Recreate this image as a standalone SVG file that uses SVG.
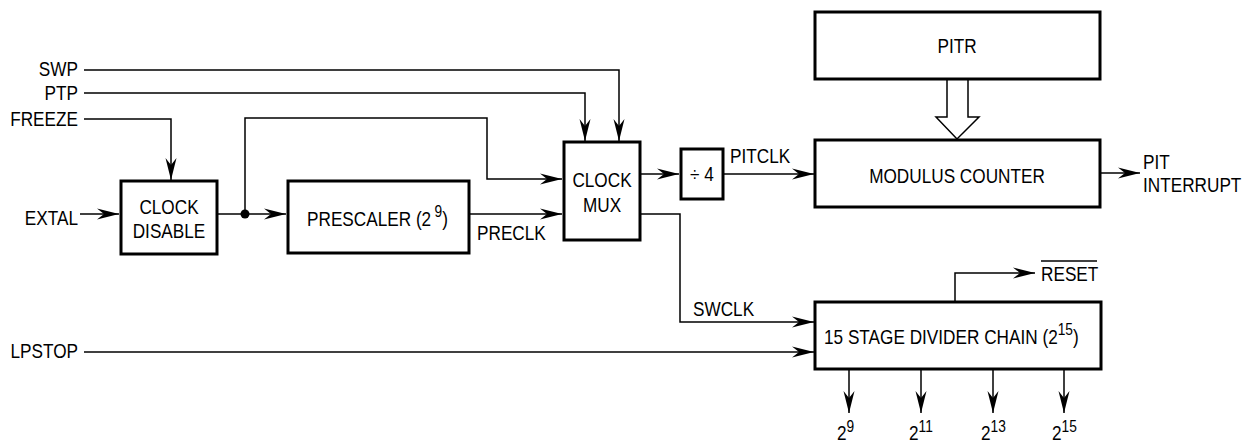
<svg xmlns="http://www.w3.org/2000/svg" width="1250" height="443" viewBox="0 0 1250 443">
<style>
text{font-family:"Liberation Sans",Arial,sans-serif;font-size:20px;fill:#000}
.box{fill:#fff;stroke:#000;stroke-width:3}
.c{fill:none;stroke:#000;stroke-width:1.5}
.m{text-anchor:middle}
.e{text-anchor:end}
.s{font-size:16px}
</style>
<defs>
<marker id="ah" viewBox="-23 -6 24 12" refX="0" refY="0" markerWidth="24" markerHeight="12" markerUnits="userSpaceOnUse" orient="auto">
<path d="M0,0 L-22,-5.5 L-15,0 L-22,5.5 Z" fill="#000"/>
</marker>
</defs>
<rect width="1250" height="443" fill="#fff"/>
<g id="connectors">
<path class="c" d="M84,70 H619 V141" marker-end="url(#ah)"/>
<path class="c" d="M84,93 H585 V141" marker-end="url(#ah)"/>
<path class="c" d="M84,119 H171 V180" marker-end="url(#ah)"/>
<path class="c" d="M80,214 H119" marker-end="url(#ah)"/>
<path class="c" d="M217,214 H286" marker-end="url(#ah)"/>
<path class="c" d="M245,214 V118 H487 V179 H562" marker-end="url(#ah)"/>
<path class="c" d="M469,214 H562" marker-end="url(#ah)"/>
<path class="c" d="M640,174 H679" marker-end="url(#ah)"/>
<path class="c" d="M724,174 H814" marker-end="url(#ah)"/>
<path class="c" d="M640,214 H680 V322 H814" marker-end="url(#ah)"/>
<path class="c" d="M84,352 H814" marker-end="url(#ah)"/>
<path class="c" d="M1100,173 H1140" marker-end="url(#ah)"/>
<path class="c" d="M955,302 V273 H1035" marker-end="url(#ah)"/>
<path class="c" d="M849,369 V413" marker-end="url(#ah)"/>
<path class="c" d="M921,369 V413" marker-end="url(#ah)"/>
<path class="c" d="M993,369 V413" marker-end="url(#ah)"/>
<path class="c" d="M1064,369 V413" marker-end="url(#ah)"/>
<circle cx="245" cy="214" r="4.5" fill="#000"/>
<path d="M947,79 V117 H936 L957,139 L979,117 H968 V79" fill="#fff" stroke="#000" stroke-width="1.5"/>
</g>
<g id="inputs">
<text class="e" transform="translate(78,76) scale(.86,1)">SWP</text>
<text class="e" transform="translate(78,100) scale(.86,1)">PTP</text>
<text class="e" transform="translate(78,126) scale(.86,1)">FREEZE</text>
<text class="e" transform="translate(78,225) scale(.86,1)">EXTAL</text>
<text class="e" transform="translate(78,358) scale(.86,1)">LPSTOP</text>
</g>
<g id="clock-disable">
<rect class="box" x="121" y="181" width="96" height="73"/>
<text class="m" transform="translate(169,214) scale(.86,1)">CLOCK</text>
<text class="m" transform="translate(169,238) scale(.86,1)">DISABLE</text>
</g>
<g id="prescaler">
<rect class="box" x="288" y="181" width="181" height="72"/>
<text transform="translate(307,226) scale(.86,1)">PRESCALER (2<tspan class="s" dx="4" dy="-9">9</tspan><tspan dy="9">)</tspan></text>
<text transform="translate(477,240) scale(.86,1)">PRECLK</text>
</g>
<g id="clock-mux">
<rect class="box" x="564" y="142" width="76" height="98"/>
<text class="m" transform="translate(602,187) scale(.86,1)">CLOCK</text>
<text class="m" transform="translate(602,212) scale(.86,1)">MUX</text>
</g>
<g id="div4">
<rect class="box" x="681" y="149" width="42" height="50"/>
<text class="m" transform="translate(702,181) scale(.86,1)">÷ 4</text>
<text transform="translate(730,163) scale(.86,1)">PITCLK</text>
</g>
<g id="pitr">
<rect class="box" x="815" y="12" width="285" height="67"/>
<text class="m" transform="translate(957,53) scale(.86,1)">PITR</text>
</g>
<g id="modulus-counter">
<rect class="box" x="815" y="140" width="285" height="67"/>
<text class="m" transform="translate(957,183) scale(.86,1)">MODULUS COUNTER</text>
<text transform="translate(1143,169) scale(.86,1)">PIT</text>
<text transform="translate(1143,192) scale(.86,1)">INTERRUPT</text>
</g>
<g id="divider-chain">
<rect class="box" x="815" y="302" width="286" height="67"/>
<text transform="translate(824,344) scale(.86,1)">15 STAGE DIVIDER CHAIN (2<tspan class="s" dy="-9">15</tspan><tspan dy="9">)</tspan></text>
<text transform="translate(693,316) scale(.86,1)">SWCLK</text>
<text transform="translate(1041,281) scale(.86,1)">RESET</text>
<line x1="1041" y1="261" x2="1097" y2="261" stroke="#000" stroke-width="1.5"/>
</g>
<g id="outputs">
<text transform="translate(837,440) scale(.86,1)">2<tspan class="s" dy="-8">9</tspan></text>
<text transform="translate(909,440) scale(.86,1)">2<tspan class="s" dy="-8">11</tspan></text>
<text transform="translate(981,440) scale(.86,1)">2<tspan class="s" dy="-8">13</tspan></text>
<text transform="translate(1052,440) scale(.86,1)">2<tspan class="s" dy="-8">15</tspan></text>
</g>
</svg>
